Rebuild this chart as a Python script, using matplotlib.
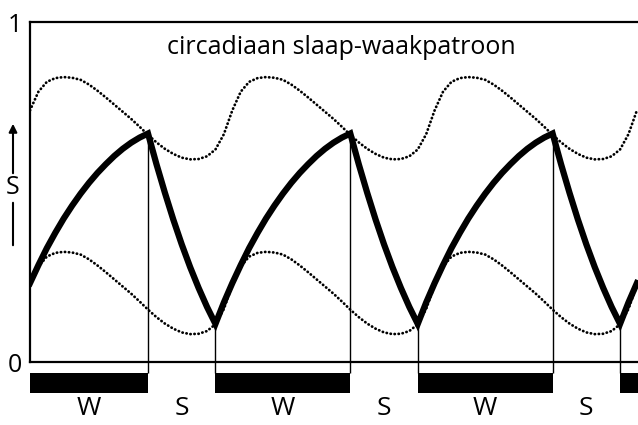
import numpy as np
import matplotlib.pyplot as plt

plt.rcParams['font.family'] = ['Open Sans', 'DejaVu Sans']

# time in hours, one sample per hour
hours = np.arange(0, 73)
S_process = [
    0.232, 0.285, 0.335, 0.38, 0.422, 0.46, 0.495, 0.527, 0.556, 0.582, 0.606, 0.627, 0.645, 0.66,
    0.672, 0.582, 0.498, 0.419, 0.346, 0.279, 0.218, 0.162, 0.112, 0.175,
    0.232, 0.285, 0.335, 0.38, 0.422, 0.46, 0.495, 0.527, 0.556, 0.582, 0.606, 0.627, 0.645, 0.66,
    0.672, 0.582, 0.498, 0.419, 0.346, 0.279, 0.218, 0.162, 0.112, 0.175,
    0.232, 0.285, 0.335, 0.38, 0.422, 0.46, 0.495, 0.527, 0.556, 0.582, 0.606, 0.627, 0.645, 0.66,
    0.672, 0.582, 0.498, 0.419, 0.346, 0.279, 0.218, 0.162, 0.112, 0.175,
    0.232]
upper = [
    0.74, 0.795, 0.824, 0.835, 0.838, 0.836, 0.83, 0.816, 0.798, 0.778, 0.757, 0.736,
    0.715, 0.692, 0.668, 0.646, 0.627, 0.612, 0.601, 0.596, 0.597, 0.605, 0.625, 0.67,
    0.74, 0.795, 0.824, 0.835, 0.838, 0.836, 0.83, 0.816, 0.798, 0.778, 0.757, 0.736,
    0.715, 0.692, 0.668, 0.646, 0.627, 0.612, 0.601, 0.596, 0.597, 0.605, 0.625, 0.67,
    0.74, 0.795, 0.824, 0.835, 0.838, 0.836, 0.83, 0.816, 0.798, 0.778, 0.757, 0.736,
    0.715, 0.692, 0.668, 0.646, 0.627, 0.612, 0.601, 0.596, 0.597, 0.605, 0.625, 0.67,
    0.74]
lower = [
    0.226, 0.281, 0.31, 0.321, 0.324, 0.322, 0.316, 0.302, 0.284, 0.264, 0.243, 0.222,
    0.201, 0.178, 0.154, 0.132, 0.113, 0.098, 0.087, 0.082, 0.083, 0.091, 0.111, 0.156,
    0.226, 0.281, 0.31, 0.321, 0.324, 0.322, 0.316, 0.302, 0.284, 0.264, 0.243, 0.222,
    0.201, 0.178, 0.154, 0.132, 0.113, 0.098, 0.087, 0.082, 0.083, 0.091, 0.111, 0.156,
    0.226, 0.281, 0.31, 0.321, 0.324, 0.322, 0.316, 0.302, 0.284, 0.264, 0.243, 0.222,
    0.201, 0.178, 0.154, 0.132, 0.113, 0.098, 0.087, 0.082, 0.083, 0.091, 0.111, 0.156,
    0.226]
switch_hours = [14, 22, 38, 46, 62, 70]
wake_start = [0, 22, 46, 70]
wake_end = [14, 38, 62, 76]
state_x = [7, 18, 30, 42, 54, 66]
state_labels = ['W', 'S', 'W', 'S', 'W', 'S']
title = 'circadiaan slaap-waakpatroon'

fig = plt.figure(figsize=(6.38, 4.25), dpi=100, facecolor='w')
ax = fig.add_axes([30 / 638, 1 - 362 / 425, 1 - 30 / 638 + 0.02, 340 / 425])

dots = dict(color='k', lw=2.0, linestyle=(0, (0.1, 1.35)), dash_capstyle='round')
ax.plot(hours, upper, **dots)
ax.plot(hours, lower, **dots)
ax.plot(hours, S_process, color='k', lw=4.5, solid_joinstyle='miter')
S_arr = np.array(S_process)
ax.vlines(switch_hours, -0.032, S_arr[switch_hours], color='k', lw=1.0, clip_on=False)
ax.broken_barh(list(zip(wake_start, np.subtract(wake_end, wake_start))), (-0.091, 0.059),
               facecolor='k', clip_on=False)
for x, s in zip(state_x, state_labels):
    ax.text(x, -0.137, s, ha='center', va='center', fontsize=19, clip_on=False)
ax.text(36.9, 0.925, title, ha='center', va='center', fontsize=18)

ax.set_xlim(0, 72.2 + 0.02 * 608 / 8.42)
ax.set_ylim(0, 1)
ax.set_xticks([])
ax.set_yticks([0, 1])
ax.set_yticklabels(['0', '1'], fontsize=18)
ax.tick_params(axis='y', length=0, pad=6)
ax.spines['right'].set_visible(False)
for sp in ['left', 'top', 'bottom']:
    ax.spines[sp].set_linewidth(1.6)

# S label with arrow on the left
fig.text(13 / 638, 1 - 188 / 425, 'S', ha='center', va='center', fontsize=18)
ax.annotate('', xy=(13, 425 - 121), xytext=(13, 425 - 176), xycoords='figure pixels',
            arrowprops=dict(arrowstyle='-|>', color='k', lw=1.5, mutation_scale=12))
ax.annotate('', xy=(13, 425 - 200), xytext=(13, 425 - 248), xycoords='figure pixels',
            arrowprops=dict(arrowstyle='-', color='k', lw=1.5))

fig.savefig('out.png', dpi=100)
